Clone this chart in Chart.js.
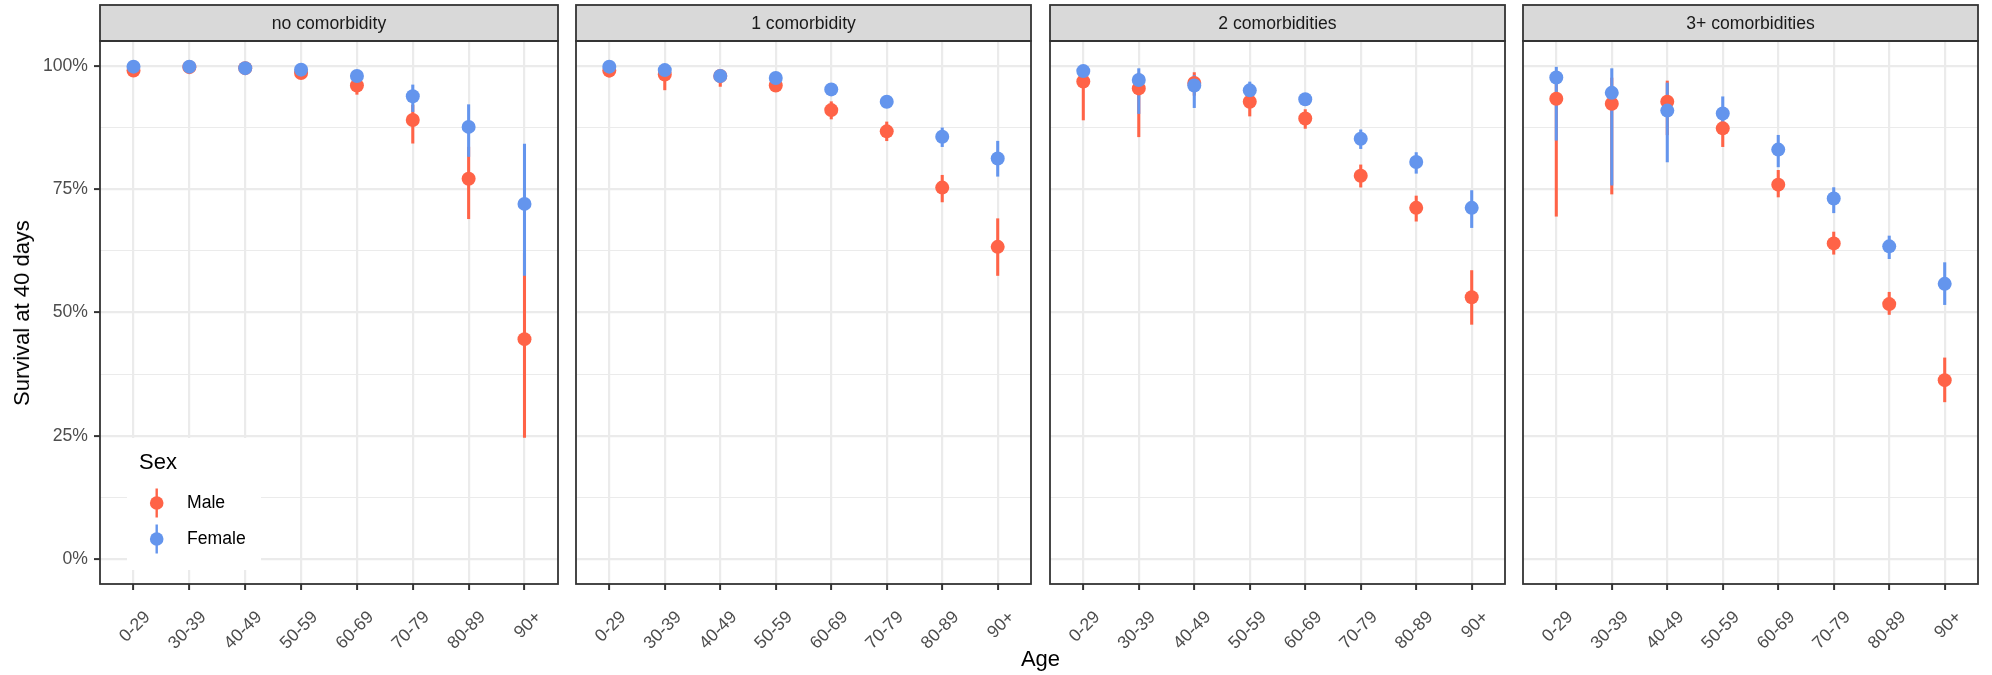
<!DOCTYPE html>
<html>
<head>
<meta charset="utf-8">
<script src="https://cdn.jsdelivr.net/npm/chart.js@4.4.1/dist/chart.umd.min.js"></script>
<style>
  body { margin: 0; background: #fff; }
  #wrap { position: relative; width: 1992px; height: 675px; background: #fff; overflow: hidden;
          font-family: "Liberation Sans", Arial, sans-serif; }
  #wrap canvas { position: absolute; top: 0; }
  .axis-title { position: absolute; color: #000; font-size: 22px; line-height: 22px; white-space: nowrap; }
  #xTitle { left: 1040.5px; top: 648px; transform: translateX(-50%); }
  #yTitle { left: 22px; top: 312.5px; transform: translate(-50%, -50%) rotate(-90deg); }
</style>
</head>
<body>
<div id="wrap">
  <canvas id="panel0"></canvas>
  <canvas id="panel1"></canvas>
  <canvas id="panel2"></canvas>
  <canvas id="panel3"></canvas>
  <div class="axis-title" id="xTitle">Age</div>
  <div class="axis-title" id="yTitle">Survival at 40 days</div>
</div>
<script>
// ========== DATA ==========
const ageGroups = ["0-29", "30-39", "40-49", "50-59", "60-69", "70-79", "80-89", "90+"];
const panelTitles = ["no comorbidity", "1 comorbidity", "2 comorbidities", "3+ comorbidities"];
const sexLabels = ["Male", "Female"];
const yTickValues = [0, 25, 50, 75, 100];
const yTickLabels = ["0%", "25%", "50%", "75%", "100%"];
const yMinorValues = [12.5, 37.5, 62.5, 87.5];

// survival at 40 days (%), one row per panel
const maleEst = [
  [99.0, 99.7, 99.5, 98.5, 96.0, 89.0, 77.1, 44.6],
  [99.0, 98.2, 97.9, 96.0, 91.0, 86.7, 75.3, 63.3],
  [96.8, 95.4, 96.5, 92.7, 89.3, 77.7, 71.2, 53.1],
  [93.3, 92.3, 92.7, 87.3, 75.9, 64.0, 51.7, 36.3],
];
const maleLo = [
  [98.4, 99.3, 99.2, 97.9, 94.2, 84.3, 69.0, 24.7],
  [97.7, 95.1, 95.8, 95.3, 89.2, 84.8, 72.4, 57.5],
  [89.0, 85.6, 94.0, 89.8, 87.3, 75.4, 68.5, 47.6],
  [69.5, 74.0, 86.0, 83.6, 73.4, 61.8, 49.6, 31.9],
];
const maleHi = [
  [99.4, 99.9, 99.7, 98.9, 97.3, 92.0, 83.5, 62.0],
  [99.6, 99.4, 98.8, 96.8, 92.7, 88.6, 77.8, 69.0],
  [98.8, 98.5, 98.6, 94.5, 91.1, 79.9, 73.6, 58.5],
  [98.0, 97.5, 96.9, 90.5, 78.8, 66.3, 54.1, 40.8],
];
const femaleEst = [
  [99.8, 99.8, 99.5, 99.2, 97.9, 93.8, 87.6, 72.0],
  [99.8, 99.1, 97.9, 97.5, 95.2, 92.7, 85.6, 81.2],
  [98.9, 97.1, 96.0, 95.0, 93.2, 85.2, 80.5, 71.2],
  [97.6, 94.5, 90.9, 90.3, 83.0, 73.1, 63.4, 55.8],
];
const femaleLo = [
  [99.4, 99.5, 99.1, 98.7, 96.8, 90.7, 81.6, 57.5],
  [99.2, 98.0, 96.6, 96.6, 94.4, 91.8, 83.6, 77.6],
  [97.5, 90.3, 91.5, 93.5, 92.0, 83.2, 78.2, 67.2],
  [84.9, 75.8, 80.5, 87.5, 79.5, 70.2, 60.9, 51.6],
];
const femaleHi = [
  [100, 100, 99.8, 99.6, 98.7, 96.1, 92.1, 84.1],
  [100, 99.8, 98.8, 98.3, 95.9, 93.6, 87.4, 84.7],
  [99.7, 99.4, 98.0, 96.7, 94.4, 87.0, 82.4, 74.7],
  [99.7, 99.4, 96.5, 93.7, 85.9, 75.3, 65.5, 60.1],
];

// ========== LOOK ==========
const MALE = "#FF6347";
const FEMALE = "#6495ED";
const FONT = "'Liberation Sans', Arial, sans-serif";
const panelLeft = [100, 573, 1047, 1520];
const panelWidth = 461;
const plotTop = 41;
const stripTop = 5;
const xAxisHeight = 91;

function points(vals) {
  return vals.map((v, i) => ({ x: i, y: v }));
}
function ranges(lo, hi) {
  return lo.map((l, i) => ({ x: i, y: [l, hi[i]] }));
}

// strip on top and border round the panel
const panelFrame = {
  id: "panelFrame",
  afterDraw(chart, args, opts) {
    const { ctx, chartArea: a } = chart;
    ctx.save();
    ctx.fillStyle = "#D9D9D9";
    ctx.fillRect(a.left, stripTop, a.right - a.left, a.top - stripTop);
    ctx.strokeStyle = "#333333";
    ctx.lineWidth = 1.8;
    ctx.strokeRect(a.left, stripTop, a.right - a.left, a.top - stripTop);
    ctx.strokeRect(a.left, a.top, a.right - a.left, a.bottom - a.top);
    ctx.fillStyle = "#1A1A1A";
    ctx.font = "17.6px " + FONT;
    ctx.textAlign = "center";
    ctx.textBaseline = "middle";
    ctx.fillText(opts.title, (a.left + a.right) / 2, (stripTop + a.top) / 2 + 1);
    ctx.restore();
  },
};

// "Sex" legend inside the first panel
const sexLegend = {
  id: "sexLegend",
  afterDraw(chart, args, opts) {
    if (!opts.show) return;
    const ctx = chart.ctx;
    ctx.save();
    ctx.fillStyle = "#FFFFFF";
    ctx.fillRect(127, 438, 134, 132);
    ctx.fillStyle = "#000";
    ctx.font = "22px " + FONT;
    ctx.textBaseline = "middle";
    ctx.fillText("Sex", 139, 463);
    const keyY = [503, 539];
    const cols = [MALE, FEMALE];
    ctx.font = "17.6px " + FONT;
    for (let k = 0; k < sexLabels.length; k++) {
      ctx.strokeStyle = cols[k];
      ctx.lineWidth = 2.4;
      ctx.beginPath();
      ctx.moveTo(156.7, keyY[k] - 14.5);
      ctx.lineTo(156.7, keyY[k] + 14.5);
      ctx.stroke();
      ctx.fillStyle = cols[k];
      ctx.beginPath();
      ctx.arc(156.7, keyY[k], 6.8, 0, Math.PI * 2);
      ctx.fill();
      ctx.fillStyle = "#000";
      ctx.fillText(sexLabels[k], 187, keyY[k]);
    }
    ctx.restore();
  },
};

function isMajor(v) {
  return yTickValues.indexOf(v) >= 0;
}

function makePanel(p) {
  const canvas = document.getElementById("panel" + p);
  const left = p === 0 ? 0 : panelLeft[p] - 4;
  const width = panelLeft[p] + panelWidth + 4 - left;
  canvas.width = width;
  canvas.height = 675;
  canvas.style.left = left + "px";
  canvas.style.width = width + "px";
  canvas.style.height = "675px";
  const yAxisWidth = panelLeft[p] - left;

  new Chart(canvas, {
    type: "bar",
    data: {
      datasets: [
        { type: "bar", label: "Male", data: ranges(maleLo[p], maleHi[p]), backgroundColor: MALE,
          barThickness: 2.4, grouped: false, order: 4 },
        { type: "bar", label: "Female", data: ranges(femaleLo[p], femaleHi[p]), backgroundColor: FEMALE,
          barThickness: 2.4, grouped: false, order: 3 },
        { type: "scatter", label: "Male", data: points(maleEst[p]), backgroundColor: MALE,
          pointRadius: 7, pointBorderWidth: 0, order: 2 },
        { type: "scatter", label: "Female", data: points(femaleEst[p]), backgroundColor: FEMALE,
          pointRadius: 7, pointBorderWidth: 0, order: 1 },
      ],
    },
    options: {
      responsive: false,
      animation: false,
      devicePixelRatio: 1,
      layout: { padding: { top: plotTop, right: 4, left: 0, bottom: 0 } },
      scales: {
        x: {
          type: "linear",
          min: -0.6,
          max: 7.6,
          offset: false,
          afterBuildTicks: (ax) => {
            ax.ticks = ageGroups.map((_, i) => ({ value: i }));
          },
          afterFit: (ax) => {
            ax.height = xAxisHeight;
            ax.paddingLeft = 0;
            ax.paddingRight = 0;
          },
          border: { display: false },
          grid: { offset: false, color: "#EBEBEB", lineWidth: 2.2, tickLength: 6, tickColor: "#333333", tickWidth: 2 },
          ticks: {
            autoSkip: false,
            minRotation: 45,
            maxRotation: 45,
            padding: 17,
            labelOffset: 14,
            color: "#4D4D4D",
            font: { family: FONT, size: 17.6 },
            callback: (v) => ageGroups[Math.round(v)],
          },
        },
        y: {
          min: -5,
          max: 105,
          afterBuildTicks: (ax) => {
            ax.ticks = yTickValues.concat(yMinorValues).sort((a, b) => a - b).map((v) => ({ value: v }));
          },
          afterFit: (ax) => {
            ax.width = yAxisWidth;
            ax.paddingTop = 0;
            ax.paddingBottom = 0;
          },
          border: { display: false },
          grid: {
            color: "#EBEBEB",
            lineWidth: (c) => (c.tick && isMajor(c.tick.value) ? 2.2 : 1.1),
            drawTicks: p === 0,
            tickLength: 6,
            tickWidth: 2,
            tickColor: (c) => (c.tick && isMajor(c.tick.value) ? "#333333" : "rgba(0,0,0,0)"),
          },
          ticks: {
            display: p === 0,
            padding: 6,
            color: "#4D4D4D",
            font: { family: FONT, size: 17.6 },
            callback: (v) => {
              const k = yTickValues.indexOf(v);
              return k < 0 ? "" : yTickLabels[k];
            },
          },
        },
      },
      plugins: {
        legend: { display: false },
        tooltip: { enabled: false },
        panelFrame: { title: panelTitles[p] },
        sexLegend: { show: p === 0 },
      },
    },
    plugins: [panelFrame, sexLegend],
  });
}

document.addEventListener("DOMContentLoaded", () => {
  for (let p = 0; p < panelTitles.length; p++) makePanel(p);
});
</script>
</body>
</html>
